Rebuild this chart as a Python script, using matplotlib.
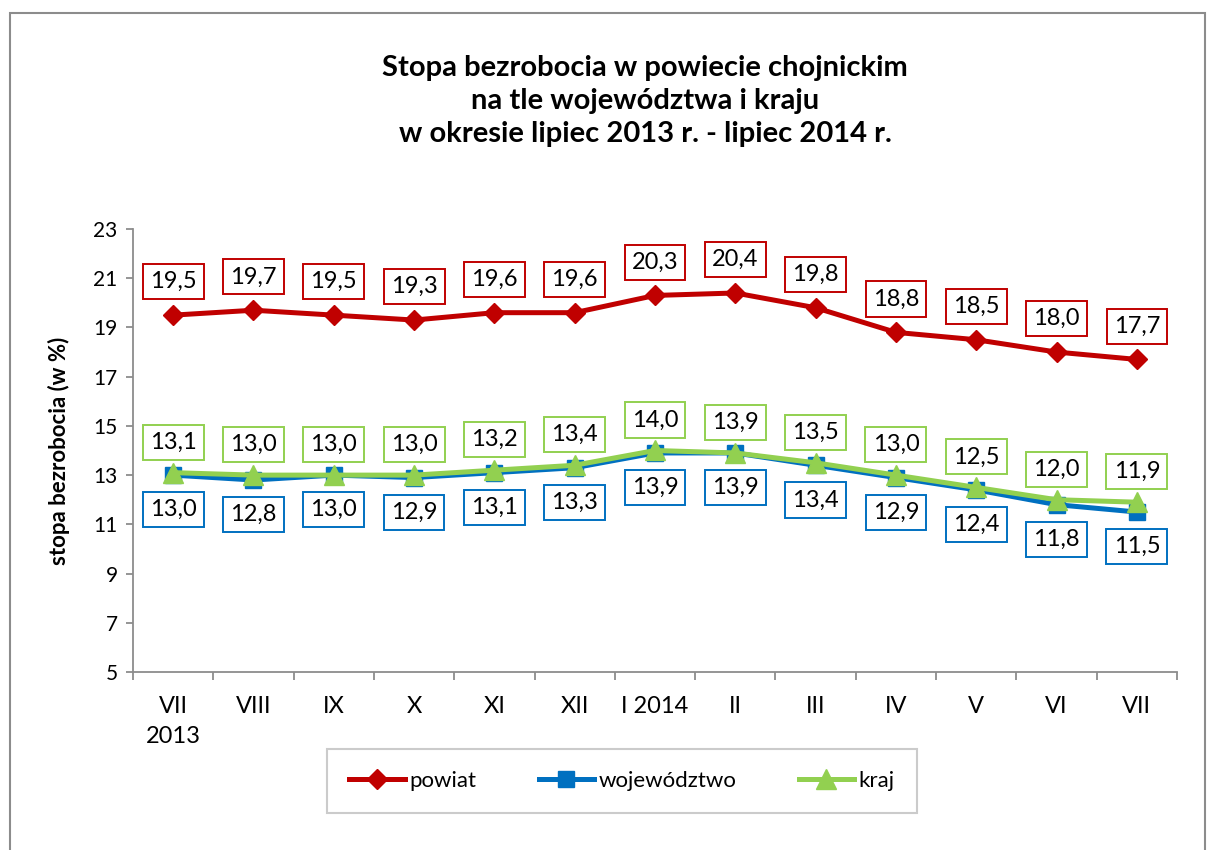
import matplotlib.pyplot as plt
from matplotlib.patches import Rectangle

plt.rcParams['font.family'] = ['Lato', 'DejaVu Sans']

# dane
months = ['VII\n2013', 'VIII', 'IX', 'X', 'XI', 'XII', 'I 2014', 'II', 'III', 'IV', 'V', 'VI', 'VII']
powiat = [19.5, 19.7, 19.5, 19.3, 19.6, 19.6, 20.3, 20.4, 19.8, 18.8, 18.5, 18.0, 17.7]
wojewodztwo = [13.0, 12.8, 13.0, 12.9, 13.1, 13.3, 13.9, 13.9, 13.4, 12.9, 12.4, 11.8, 11.5]
kraj = [13.1, 13.0, 13.0, 13.0, 13.2, 13.4, 14.0, 13.9, 13.5, 13.0, 12.5, 12.0, 11.9]

red = '#C00000'
blue = '#0070C0'
green = '#92D050'

fig = plt.figure(figsize=(12.09, 8.5), dpi=100)
fig.patches.append(Rectangle((10 / 1209, -0.01), 1195 / 1209, 1 - 13 / 850 + 0.01,
                             transform=fig.transFigure, fill=False,
                             edgecolor='#8c8c8c', linewidth=1.5))

ax = fig.add_axes([133 / 1209, 1 - 672 / 850, (1177 - 133) / 1209, (672 - 229) / 850])
x = list(range(len(months)))

ax.plot(x, powiat, color=red, lw=3.6, marker='D', markersize=10, label='powiat', zorder=3)
ax.plot(x, wojewodztwo, color=blue, lw=3.6, marker='s', markersize=12, label='województwo', zorder=4)
ax.plot(x, kraj, color=green, lw=3.6, marker='^', markersize=14, label='kraj', zorder=5)


def fmt(v):
    return ('%.1f' % v).replace('.', ',')


def labels(vals, color, dy):
    for xi, v in zip(x, vals):
        ax.annotate(fmt(v), (xi, v), xytext=(0, dy), textcoords='offset points',
                    ha='center', va='center', fontsize=17, color='black',
                    bbox=dict(boxstyle='square,pad=0.3', fc='white', ec=color, lw=1.4),
                    zorder=6)


labels(powiat, red, 24)
labels(wojewodztwo, blue, -25)
labels(kraj, green, 22)

ax.set_xlim(-0.5, len(months) - 0.5)
ax.set_ylim(5, 23)
ax.set_yticks(range(5, 24, 2))
ax.set_xticks([i - 0.5 for i in range(len(months) + 1)])
ax.set_xticklabels([])
ax.set_xticks(x, minor=True)
ax.set_xticklabels(months, minor=True, fontsize=17, linespacing=1.55)
ax.tick_params(axis='x', which='major', length=6, color='#8c8c8c', width=1.3)
ax.tick_params(axis='x', which='minor', length=0, pad=17)
ax.tick_params(axis='y', length=5, color='#8c8c8c', width=1.3, labelsize=15, pad=6)

for s in ['top', 'right']:
    ax.spines[s].set_visible(False)
for s in ['left', 'bottom']:
    ax.spines[s].set_color('#8c8c8c')
    ax.spines[s].set_linewidth(1.3)

ax.set_ylabel('stopa bezrobocia (w %)', fontsize=16, fontweight='bold', labelpad=17)

fig.text(645 / 1209, 1 - 101 / 850,
         'Stopa bezrobocia w powiecie chojnickim\nna tle województwa i kraju\nw okresie lipiec 2013 r. - lipiec 2014 r.',
         ha='center', va='center', fontsize=21, fontweight='bold', linespacing=1.35)

leg = fig.legend(loc='center', bbox_to_anchor=(622 / 1209, 1 - 781 / 850), ncol=3,
                 fontsize=16, frameon=True, fancybox=False, edgecolor='#bfbfbf',
                 handlelength=2.5, columnspacing=2.8, borderpad=1.0, handletextpad=0.2,
                 borderaxespad=0)
leg.get_frame().set_linewidth(1.5)

fig.savefig('out.png', dpi=100)
